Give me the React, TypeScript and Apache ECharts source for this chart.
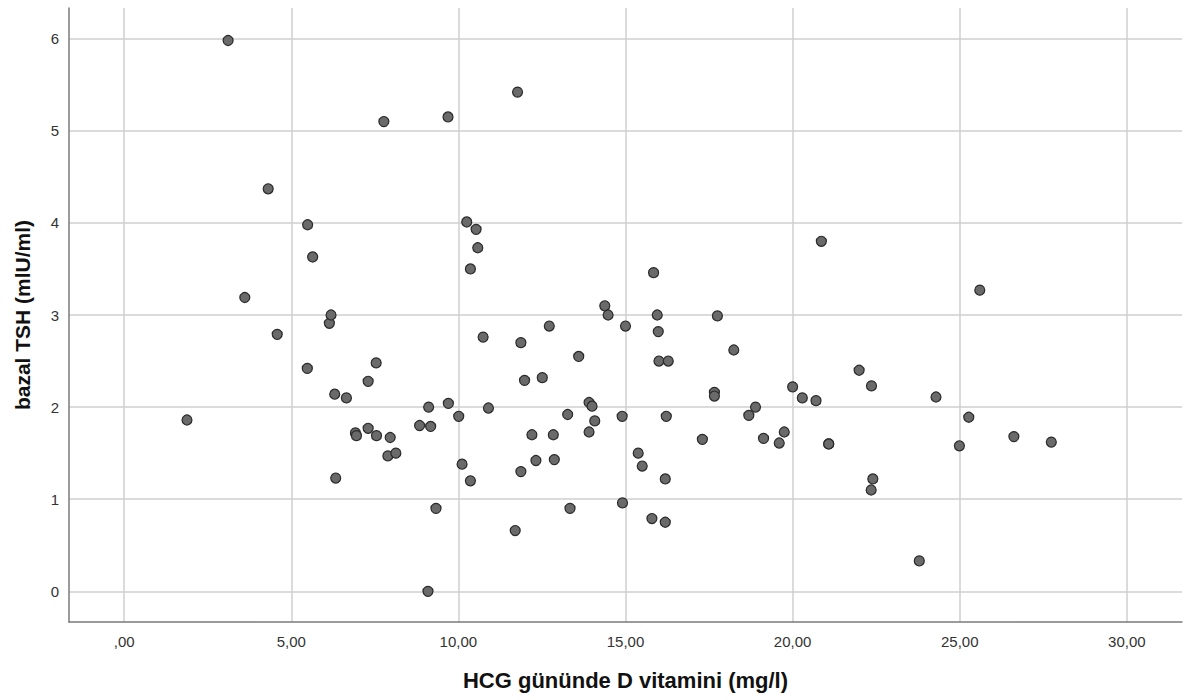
import React, { useEffect, useRef } from "react";
import * as echarts from "echarts";

const vitaminD: number[] = [
  1.88, 3.11, 3.61, 4.31, 4.58, 5.49, 5.48, 5.64, 6.14, 6.19,
  6.30, 6.33, 6.65, 6.92, 6.95, 7.30, 7.30, 7.54, 7.55, 7.77,
  7.89, 7.96, 8.13, 8.84, 9.09, 9.11, 9.17, 9.33, 9.69, 9.70,
  10.01, 10.11, 10.25, 10.36, 10.36, 10.53, 10.58, 10.74, 10.90, 11.70,
  11.77, 11.87, 11.87, 11.98, 12.20, 12.32, 12.51, 12.72, 12.84, 12.87,
  13.27, 13.34, 13.60, 13.91, 13.91, 14.00, 14.08, 14.38, 14.48, 14.90,
  14.91, 15.00, 15.38, 15.50, 15.79, 15.84, 15.95, 15.98, 16.00, 16.19,
  16.19, 16.22, 16.28, 17.30, 17.66, 17.66, 17.75, 18.24, 18.69, 18.89,
  19.13, 19.60, 19.75, 20.00, 20.29, 20.70, 20.86, 21.08, 21.08, 21.99,
  22.36, 22.40, 22.35, 23.79, 24.29, 24.99, 25.27, 25.60, 26.62, 27.74,
];

const tsh: number[] = [
  1.86, 5.98, 3.19, 4.37, 2.79, 3.98, 2.42, 3.63, 2.91, 3.00,
  2.14, 1.23, 2.10, 1.72, 1.69, 2.28, 1.77, 2.48, 1.69, 5.10,
  1.47, 1.67, 1.50, 1.80, 0.00, 2.00, 1.79, 0.90, 5.15, 2.04,
  1.90, 1.38, 4.01, 3.50, 1.20, 3.93, 3.73, 2.76, 1.99, 0.66,
  5.42, 2.70, 1.30, 2.29, 1.70, 1.42, 2.32, 2.88, 1.70, 1.43,
  1.92, 0.90, 2.55, 2.05, 1.73, 2.01, 1.85, 3.10, 3.00, 1.90,
  0.96, 2.88, 1.50, 1.36, 0.79, 3.46, 3.00, 2.82, 2.50, 1.22,
  0.75, 1.90, 2.50, 1.65, 2.16, 2.12, 2.99, 2.62, 1.91, 2.00,
  1.66, 1.61, 1.73, 2.22, 2.10, 2.07, 3.80, 1.60, 1.60, 2.40,
  2.23, 1.22, 1.10, 0.33, 2.11, 1.58, 1.89, 3.27, 1.68, 1.62,
];

const xAxisTitle = "HCG gününde D vitamini (mg/l)";
const yAxisTitle = "bazal TSH (mlU/ml)";

const fontFamily = "'Liberation Sans', Arial, sans-serif";

export default function App() {
  const ref = useRef<HTMLDivElement>(null);

  useEffect(() => {
    document.body.style.margin = "0";
    if (!ref.current) return;
    const chart = echarts.init(ref.current, undefined, { renderer: "svg" });
    const points = vitaminD.map((x, i) => [x, tsh[i]]);
    chart.setOption({
      animation: false,
      backgroundColor: "#ffffff",
      grid: { left: 69, right: 10, top: 8, bottom: 78, containLabel: false },
      xAxis: {
        type: "value",
        min: -1.65,
        max: 31.65,
        minInterval: 5,
        maxInterval: 5,
        name: xAxisTitle,
        nameLocation: "middle",
        nameGap: 47,
        nameTextStyle: { fontFamily, fontSize: 22, fontWeight: "bold", color: "#111" },
        axisLine: { show: true, onZero: false, lineStyle: { color: "#7a7a7a", width: 1.5 } },
        axisTick: { show: false },
        axisLabel: {
          show: true,
          showMinLabel: false,
          showMaxLabel: false,
          fontFamily,
          fontSize: 15,
          color: "#333",
          margin: 12,
          formatter: (v: number) => (v === 0 ? ",00" : v.toFixed(2).replace(".", ",")),
        },
        splitLine: {
          show: true,
          showMinLine: false,
          showMaxLine: false,
          lineStyle: { color: "#cfcfcf", width: 1.5 },
        },
      },
      yAxis: {
        type: "value",
        min: -0.333,
        max: 6.333,
        minInterval: 1,
        maxInterval: 1,
        name: yAxisTitle,
        nameLocation: "middle",
        nameGap: 36,
        nameTextStyle: { fontFamily, fontSize: 21, fontWeight: "bold", color: "#111" },
        axisLine: { show: true, onZero: false, lineStyle: { color: "#7a7a7a", width: 1.5 } },
        axisTick: { show: false },
        axisLabel: {
          show: true,
          showMinLabel: false,
          showMaxLabel: false,
          fontFamily,
          fontSize: 15,
          color: "#333",
          margin: 10,
          formatter: (v: number) => String(Math.round(v)),
        },
        splitLine: {
          show: true,
          showMinLine: false,
          showMaxLine: false,
          lineStyle: { color: "#cfcfcf", width: 1.5 },
        },
      },
      series: [
        {
          type: "scatter",
          data: points,
          symbol: "circle",
          symbolSize: 10,
          itemStyle: { color: "#6a6a6a", borderColor: "#2a2a2a", borderWidth: 1.2, opacity: 1 },
        },
      ],
    });
    return () => chart.dispose();
  }, []);

  return <div ref={ref} style={{ width: 1192, height: 700 }} />;
}
